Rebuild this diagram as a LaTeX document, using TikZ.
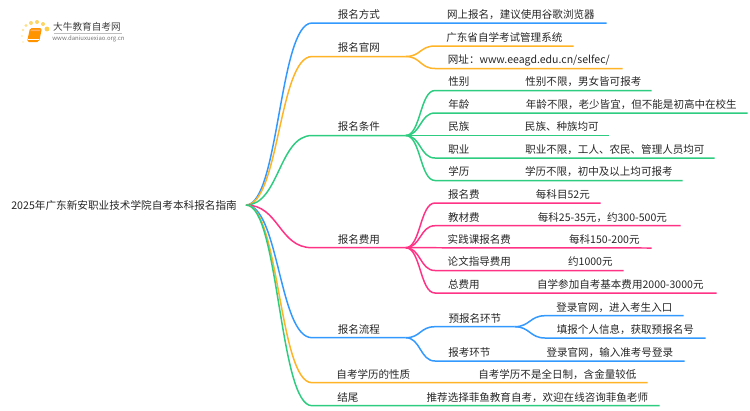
\documentclass[tikz,border=0pt]{standalone}
\usepackage{fontspec}
\setmainfont{Noto Sans CJK SC}
\definecolor{mapblue}{HTML}{3399FF}
\definecolor{maporange}{HTML}{FFB326}
\definecolor{mapgreen}{HTML}{2ECC80}
\definecolor{mappink}{HTML}{FF3385}
\definecolor{maptext}{HTML}{262626}
\tikzset{
	lbl/.style={font=\fontsize{6}{7}\selectfont, text=maptext, anchor=south west, inner xsep=0pt, inner ysep=1.6pt, text height=5.2pt, text depth=0.8pt, align=center},
	w/.style={minimum width=#1*0.02cm},
	lnk/.style={line width=0.85pt}
}

\begin{document}
\begin{tikzpicture}[x=0.02cm, y=-0.02cm]
		%%%%% START %%%%%
		\useasboundingbox (0, 0) rectangle (750, 410);
		
		% logo
		\fill[color=yellow!50!orange!70] (47, 29) circle (2.4);
		\fill[color=yellow!50!orange!60] (43, 24) circle (2);
		\fill[color=yellow!50!orange!60] (37, 22) circle (2);
		\fill[color=yellow!50!orange!55] (31, 23) circle (2);
		\fill[color=yellow!50!orange!45] (26, 25.5) circle (1.7);
		\fill[color=yellow!50!orange!35] (23, 30) circle (1.4);
		\fill[color=yellow!50!orange!25] (22, 36) circle (1.2);
		\fill[color=yellow!50!orange!20] (23, 42) circle (1.1);
		\fill[color=orange!85!yellow, rounded corners=1pt] (30, 28) -- (42, 28) -- (39, 42) -- (27, 42) -- cycle;
		\fill[color=orange!60!white] (31, 29.5) -- (40.5, 29.5) -- (40, 31) -- (30.6, 31) -- cycle;
		\draw[line width=0.3pt, color=white] (28, 39.5) -- (38.5, 39.5);
		\node[font=\fontsize{5.5}{6}\selectfont, text=black!75, inner sep=0pt] (logoname) at (87, 26.5) {大牛教育自考网};
		\draw[line width=0.3pt, color=black!25] (54, 33.5) -- (122, 33.5);
		\node[font=\fontsize{3.4}{4}\selectfont, text=black!55, inner sep=0pt] (logourl) at (88.5, 39) {www.daniuxuexiao.org.cn};
		
		% root
		\node[font=\fontsize{6.05}{7}\selectfont, text=maptext, anchor=east, inner xsep=5pt, inner ysep=0pt] (root) at (246, 205) {2025年广东新安职业技术学院自考本科报名指南};
		
		% first level
		\node[lbl, w=93] (fangshi) at (312, 23) {报名方式};
		\node[lbl, w=93] (guanwang) at (312, 56.5) {报名官网};
		\node[lbl, w=93] (tiaojian) at (312, 135.5) {报名条件};
		\node[lbl, w=93] (feiyong) at (312, 247.7) {报名费用};
		\node[lbl, w=93] (liucheng) at (312, 337.7) {报名流程};
		\node[lbl, w=122] (xingzhi) at (312, 382.7) {自考学历的性质};
		\node[lbl, w=71] (jiewei) at (312, 405.7) {结尾};
		
		% second level
		\node[lbl, w=171] (wangshang) at (435, 23) {网上报名，建议使用谷歌浏览器};
		\node[lbl, w=138] (xitong) at (435, 46) {广东省自学考试管理系统};
		\node[lbl, w=187] (wangzhi) at (435, 68.5) {网址：www.eeagd.edu.cn/selfec/};
		
		\node[lbl, w=47] (xingbie) at (435, 90.5) {性别};
		\node[lbl, w=47] (nianling) at (435, 113) {年龄};
		\node[lbl, w=47] (minzu) at (435, 135.5) {民族};
		\node[lbl, w=47] (zhiye) at (435, 158) {职业};
		\node[lbl, w=47] (xueli) at (435, 180.5) {学历};
		\node[lbl, w=136] (xingbiev) at (515, 90.5) {性别不限，男女皆可报考};
		\node[lbl, w=232] (nianlingv) at (515, 113) {年龄不限，老少皆宜，但不能是初高中在校生};
		\node[lbl, w=93] (minzuv) at (515, 135.5) {民族、种族均可};
		\node[lbl, w=199] (zhiyev) at (515, 158) {职业不限，工人、农民、管理人员均可};
		\node[lbl, w=167] (xueliv) at (515, 180.5) {学历不限，初中及以上均可报考};
		
		\node[lbl, w=57] (baoming) at (435, 203) {报名费};
		\node[lbl, w=57] (jiaocai) at (435, 225.7) {教材费};
		\node[lbl, w=88] (shijian) at (435, 248) {实践课报名费};
		\node[lbl, w=88] (lunwen) at (435, 270.5) {论文指导费用};
		\node[lbl, w=57] (zong) at (435, 293) {总费用};
		\node[lbl, w=75] (baomingv) at (525, 203) {每科目52元};
		\node[lbl, w=156] (jiaocaiv) at (524, 225.7) {每科25-35元，约300-500元};
		\node[lbl, w=94] (shijianv) at (557, 248) {每科150-200元};
		\node[lbl, w=66] (lunwenv) at (557, 270.5) {约1000元};
		\node[lbl, w=192] (zongv) at (524, 293) {自学参加自考基本费用2000-3000元};
		
		\node[lbl, w=79] (yubao) at (435, 326.7) {预报名环节};
		\node[lbl, w=138] (denglu) at (545, 315.7) {登录官网，进入考生入口};
		\node[lbl, w=160] (tianbao) at (545, 338) {填报个人信息，获取预报名号};
		\node[lbl, w=68] (baokao) at (435, 361) {报考环节};
		\node[lbl, w=149] (baokaov) at (535, 361) {登录官网，输入准考号登录};
		
		\node[lbl, w=180] (xingzhiv) at (467, 382.7) {自考学历不是全日制，含金量较低};
		\node[lbl, w=244] (jieweiv) at (415, 405.7) {推荐选择菲鱼教育自考，欢迎在线咨询菲鱼老师};
		
		% blue and orange at the top
		\draw[lnk, color=mapblue] (root.east) .. controls +(33, 0) and +(-33, 0) .. (fangshi.south west) -- (wangshang.south east);
		\draw[lnk, color=maporange] (root.east) .. controls +(33, 0) and +(-33, 0) .. (guanwang.south west) -- (guanwang.south east);
		\draw[lnk, color=maporange] (guanwang.south east) .. controls +(15, 0) and +(-15, 0) .. (xitong.south west) -- (xitong.south east);
		\draw[lnk, color=maporange] (guanwang.south east) .. controls +(15, 0) and +(-15, 0) .. (wangzhi.south west) -- (wangzhi.south east);
		
		% conditions
		\draw[lnk, color=mapgreen] (root.east) .. controls +(33, 0) and +(-33, 0) .. (tiaojian.south west) -- (tiaojian.south east);
		\draw[lnk, color=mapgreen] (tiaojian.south east) .. controls +(15, 0) and +(-15, 0) .. (xingbie.south west) -- (xingbiev.south east);
		\draw[lnk, color=mapgreen] (tiaojian.south east) .. controls +(15, 0) and +(-15, 0) .. (nianling.south west) -- (nianlingv.south east);
		\draw[lnk, color=mapgreen] (tiaojian.south east) -- (minzuv.south east);
		\draw[lnk, color=mapgreen] (tiaojian.south east) .. controls +(15, 0) and +(-15, 0) .. (zhiye.south west) -- (zhiyev.south east);
		\draw[lnk, color=mapgreen] (tiaojian.south east) .. controls +(15, 0) and +(-15, 0) .. (xueli.south west) -- (xueliv.south east);
		
		% fees
		\draw[lnk, color=mappink] (root.east) .. controls +(33, 0) and +(-33, 0) .. (feiyong.south west) -- (feiyong.south east);
		\draw[lnk, color=mappink] (feiyong.south east) .. controls +(15, 0) and +(-15, 0) .. (baoming.south west) -- (baomingv.south east);
		\draw[lnk, color=mappink] (feiyong.south east) .. controls +(15, 0) and +(-15, 0) .. (jiaocai.south west) -- (jiaocaiv.south east);
		\draw[lnk, color=mappink] (feiyong.south east) -- (shijianv.south east);
		\draw[lnk, color=mappink] (feiyong.south east) .. controls +(15, 0) and +(-15, 0) .. (lunwen.south west) -- (lunwenv.south east);
		\draw[lnk, color=mappink] (feiyong.south east) .. controls +(15, 0) and +(-15, 0) .. (zong.south west) -- (zongv.south east);
		
		% process
		\draw[lnk, color=mapblue] (root.east) .. controls +(33, 0) and +(-33, 0) .. (liucheng.south west) -- (liucheng.south east);
		\draw[lnk, color=mapblue] (liucheng.south east) .. controls +(15, 0) and +(-15, 0) .. (yubao.south west) -- (yubao.south east);
		\draw[lnk, color=mapblue] (yubao.south east) .. controls +(15, 0) and +(-15, 0) .. (denglu.south west) -- (denglu.south east);
		\draw[lnk, color=mapblue] (yubao.south east) .. controls +(15, 0) and +(-15, 0) .. (tianbao.south west) -- (tianbao.south east);
		\draw[lnk, color=mapblue] (liucheng.south east) .. controls +(15, 0) and +(-15, 0) .. (baokao.south west) -- (baokaov.south east);
		
		% last two
		\draw[lnk, color=maporange] (root.east) .. controls +(33, 0) and +(-33, 0) .. (xingzhi.south west) -- (xingzhiv.south east);
		\draw[lnk, color=mapgreen] (root.east) .. controls +(33, 0) and +(-33, 0) .. (jiewei.south west) -- (jieweiv.south east);
		
		%%%%% END %%%%%
	\end{tikzpicture}
\end{document}
